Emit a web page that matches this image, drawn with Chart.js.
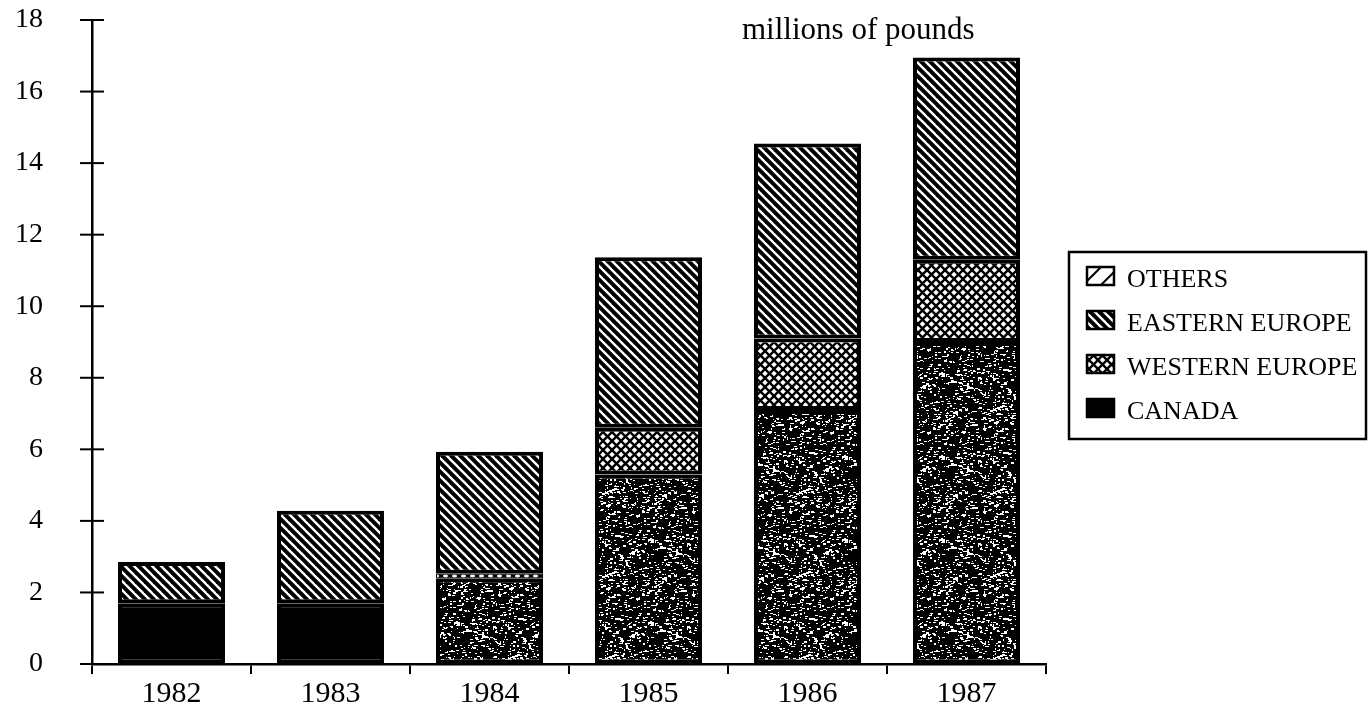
<!DOCTYPE html>
<html>
<head>
<meta charset="utf-8">
<script src="https://cdn.jsdelivr.net/npm/chart.js@4.4.1/dist/chart.umd.min.js"></script>
<style>
    html, body { margin: 0; padding: 0; background: #fff; }
    #wrap { width: 1368px; height: 714px; }
</style>
</head>
<body>
<div id="wrap"><canvas id="exportChart" width="1368" height="714"></canvas></div>
<script>
// values, millions of pounds
const years = ['1982', '1983', '1984', '1985', '1986', '1987'];
const canada = [1.7, 1.7, 2.4, 5.3, 7.1, 9.0];
const westernEurope = [0, 0, 0.12, 1.3, 2.0, 2.3];
const easternEurope = [1.15, 2.58, 3.41, 4.77, 5.45, 5.65];
const others = [0, 0, 0, 0, 0, 0];
const seriesNames = ['CANADA', 'WESTERN EUROPE', 'EASTERN EUROPE', 'OTHERS'];
const unitLabel = 'millions of pounds';

const SERIF = '"Liberation Serif", "Times New Roman", serif';

function makeTile(w, h, draw) {
    const c = document.createElement('canvas');
    c.width = w;
    c.height = h;
    draw(c.getContext('2d'), w, h);
    return c;
}

function backslash(g, s) {
    [-s, 0, s].forEach(o => {
        g.beginPath();
        g.moveTo(o - 1, -1);
        g.lineTo(o + s + 1, s + 1);
        g.stroke();
    });
}

function slash(g, s) {
    [-s, 0, s].forEach(o => {
        g.beginPath();
        g.moveTo(o - 1, s + 1);
        g.lineTo(o + s + 1, -1);
        g.stroke();
    });
}

// integer hash used only for the speckle texture
function mix(n) {
    n = Math.imul(n ^ (n >>> 16), 0x85ebca6b);
    n = Math.imul(n ^ (n >>> 13), 0xc2b2ae35);
    return (n ^ (n >>> 16)) >>> 0;
}

const ctx = document.getElementById('exportChart').getContext('2d');

// white diagonal stripes on black
const stripes = ctx.createPattern(makeTile(9, 9, (g, s) => {
    g.fillStyle = '#000';
    g.fillRect(0, 0, s, s);
    g.strokeStyle = '#fff';
    g.lineWidth = 2.4;
    backslash(g, s);
}), 'repeat');

// cross hatch, white diamonds
const crossHatch = ctx.createPattern(makeTile(9, 9, (g, s) => {
    g.fillStyle = '#fff';
    g.fillRect(0, 0, s, s);
    g.strokeStyle = '#000';
    g.lineWidth = 2.4;
    backslash(g, s);
    slash(g, s);
}), 'repeat');

// sparse single diagonal for "others"
const sparseLine = ctx.createPattern(makeTile(18, 18, (g, s) => {
    g.fillStyle = '#fff';
    g.fillRect(0, 0, s, s);
    g.strokeStyle = '#000';
    g.lineWidth = 2;
    slash(g, s);
}), 'repeat');

// black with white specks, like the scanned grey fill
const specks = ctx.createPattern(makeTile(97, 83, (g, w, h) => {
    g.fillStyle = '#000';
    g.fillRect(0, 0, w, h);
    g.fillStyle = '#fff';
    for (let i = 0; i < 650; i++) {
        const a = mix(i * 2 + 1);
        const b = mix(i * 2 + 2);
        g.fillRect(a % w, b % h, 1 + (a >>> 24) % 3, 1 + ((b >>> 24) % 4 === 0 ? 1 : 0));
    }
}), 'repeat');

// y axis ticks cross the axis line
const crossTicks = {
    id: 'crossTicks',
    afterDraw(chart) {
        const y = chart.scales.y;
        const c = chart.ctx;
        c.save();
        c.strokeStyle = '#000';
        c.lineWidth = 2;
        y.ticks.forEach(t => {
            const py = y.getPixelForValue(t.value);
            c.beginPath();
            c.moveTo(y.right - 12, py);
            c.lineTo(y.right + 12, py);
            c.stroke();
        });
        c.restore();
    }
};

const unitText = {
    id: 'unitText',
    afterDraw(chart) {
        const c = chart.ctx;
        c.save();
        c.font = '31px ' + SERIF;
        c.fillStyle = '#000';
        c.textAlign = 'left';
        c.textBaseline = 'alphabetic';
        c.fillText(unitLabel, chart.chartArea.right - 304, 39);
        c.restore();
    }
};

const boxLegend = {
    id: 'boxLegend',
    afterDraw(chart) {
        const c = chart.ctx;
        const x0 = chart.chartArea.right + 23;
        const y0 = 252;
        c.save();
        c.lineWidth = 2.5;
        c.strokeStyle = '#000';
        c.strokeRect(x0, y0, 297, 187);
        c.font = '26px ' + SERIF;
        c.textBaseline = 'alphabetic';
        chart.data.datasets.slice().reverse().forEach((ds, i) => {
            const base = y0 + 35 + i * 44;
            const bg = Array.isArray(ds.backgroundColor) ? ds.backgroundColor[0] : ds.backgroundColor;
            c.fillStyle = bg;
            c.fillRect(x0 + 18, base - 20, 27, 18);
            c.lineWidth = 2.5;
            c.strokeRect(x0 + 18, base - 20, 27, 18);
            c.fillStyle = '#000';
            c.fillText(ds.label, x0 + 58, base);
        });
        c.restore();
    }
};

const barStyle = {
    borderColor: '#000',
    borderWidth: 4,
    borderSkipped: false,
    inflateAmount: 0,
    barThickness: 107
};

new Chart(ctx, {
    type: 'bar',
    data: {
        labels: years,
        datasets: [
            { ...barStyle, label: seriesNames[0], data: canada, backgroundColor: ['#000', '#000', specks, specks, specks, specks] },
            { ...barStyle, label: seriesNames[1], data: westernEurope, backgroundColor: crossHatch, borderWidth: [4, 4, 1, 4, 4, 4] },
            { ...barStyle, label: seriesNames[2], data: easternEurope, backgroundColor: stripes },
            { ...barStyle, label: seriesNames[3], data: others, backgroundColor: sparseLine }
        ]
    },
    options: {
        responsive: false,
        animation: false,
        devicePixelRatio: 1,
        layout: { padding: { top: 20, right: 322, left: 0, bottom: 0 } },
        plugins: {
            legend: { display: false },
            tooltip: { enabled: false }
        },
        scales: {
            x: {
                stacked: true,
                grid: { offset: true, drawOnChartArea: false, tickLength: 10, color: '#000', lineWidth: 2 },
                border: { color: '#000', width: 2.5 },
                ticks: { color: '#000', font: { family: SERIF, size: 30 }, padding: 2, maxRotation: 0 },
                afterFit(scale) { scale.height = 50; }
            },
            y: {
                stacked: true,
                min: 0,
                max: 18,
                grid: { drawOnChartArea: false, tickLength: 49, tickColor: 'rgba(0,0,0,0)' },
                border: { color: '#000', width: 2.5 },
                ticks: { stepSize: 2, color: '#000', font: { family: SERIF, size: 28 }, padding: 0 },
                afterFit(scale) { scale.width = 92; }
            }
        }
    },
    plugins: [crossTicks, unitText, boxLegend]
});
</script>
</body>
</html>
